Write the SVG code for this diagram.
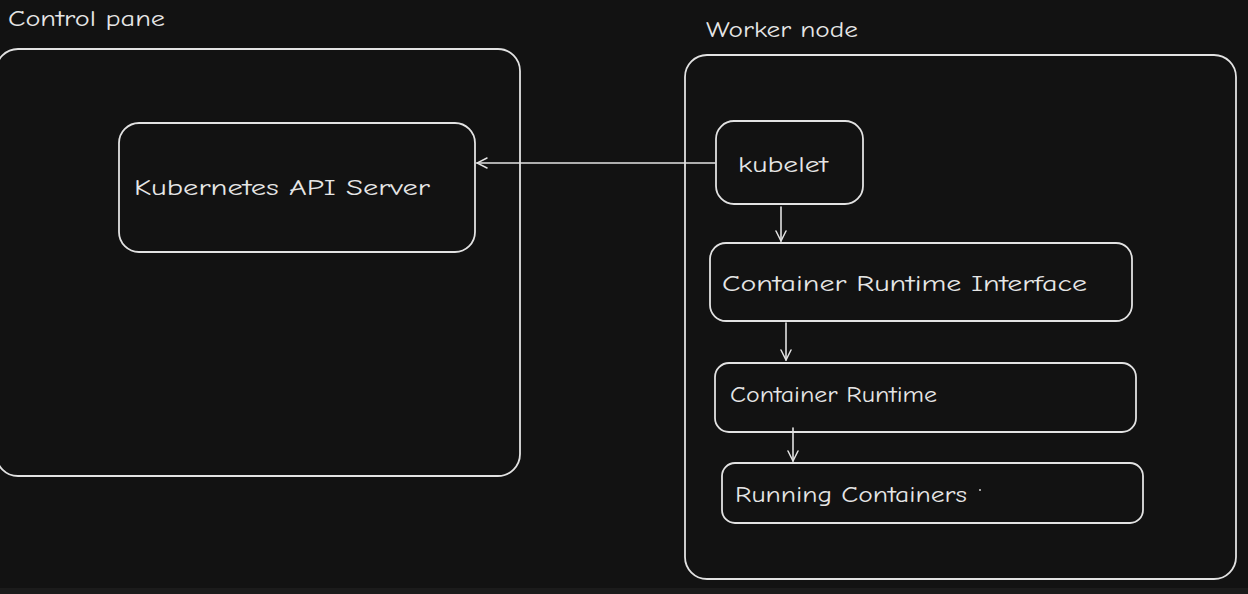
<svg xmlns="http://www.w3.org/2000/svg" width="1248" height="594" viewBox="0 0 1248 594">
<defs>
<style>
.box{fill:none;stroke:#e2e2e2;stroke-width:1.8}
.lbl{fill:#e6e6e6;font-family:"Comic Neue","Liberation Sans",sans-serif;font-size:22px}
.con{fill:none;stroke:#e2e2e2;stroke-width:1.6;stroke-linecap:round}
</style>
<marker id="arr" viewBox="0 0 12 12" refX="11" refY="6" markerWidth="12" markerHeight="12" markerUnits="userSpaceOnUse" orient="auto">
<path d="M1,1 L11,6 L1,11" fill="none" stroke="#e2e2e2" stroke-width="1.5" stroke-linecap="round"/>
</marker>
</defs>
<rect width="1248" height="594" fill="#121212"/>
<rect y="588" width="1248" height="6" fill="#1b1b1b"/>
<g id="control-pane">
<rect class="box" x="-4" y="49" width="524" height="427" rx="22"/>
<text class="lbl" x="8" y="26" textLength="157" lengthAdjust="spacingAndGlyphs">Control pane</text>
</g>
<g id="api-server">
<rect class="box" x="119" y="123" width="356" height="129" rx="20"/>
<text class="lbl" x="134" y="195" textLength="296" lengthAdjust="spacingAndGlyphs">Kubernetes API Server</text>
</g>
<g id="worker-node">
<rect class="box" x="685" y="55" width="551" height="524" rx="22"/>
<text class="lbl" x="706" y="37" textLength="152" lengthAdjust="spacingAndGlyphs">Worker node</text>
</g>
<g id="kubelet">
<rect class="box" x="716" y="121" width="147" height="83" rx="18"/>
<text class="lbl" x="738" y="172" textLength="90" lengthAdjust="spacingAndGlyphs">kubelet</text>
</g>
<g id="cri">
<rect class="box" x="710" y="243" width="422" height="78" rx="16"/>
<text class="lbl" x="722" y="291" textLength="365" lengthAdjust="spacingAndGlyphs">Container Runtime Interface</text>
</g>
<g id="container-runtime">
<rect class="box" x="715" y="363" width="421" height="69" rx="14"/>
<text class="lbl" x="730" y="402" textLength="207" lengthAdjust="spacingAndGlyphs">Container Runtime</text>
</g>
<g id="running-containers">
<rect class="box" x="722" y="463" width="421" height="60" rx="13"/>
<text class="lbl" x="735" y="502" textLength="232" lengthAdjust="spacingAndGlyphs">Running Containers</text>
<circle cx="980" cy="490" r="1" fill="#d0d0d0"/>
</g>
<g id="connectors">
<line class="con" x1="715" y1="163" x2="477" y2="163" marker-end="url(#arr)"/>
<line class="con" x1="781" y1="207" x2="781" y2="241" marker-end="url(#arr)"/>
<line class="con" x1="786" y1="323" x2="786" y2="360" marker-end="url(#arr)"/>
<line class="con" x1="793" y1="428" x2="793" y2="461" marker-end="url(#arr)"/>
</g>
</svg>
